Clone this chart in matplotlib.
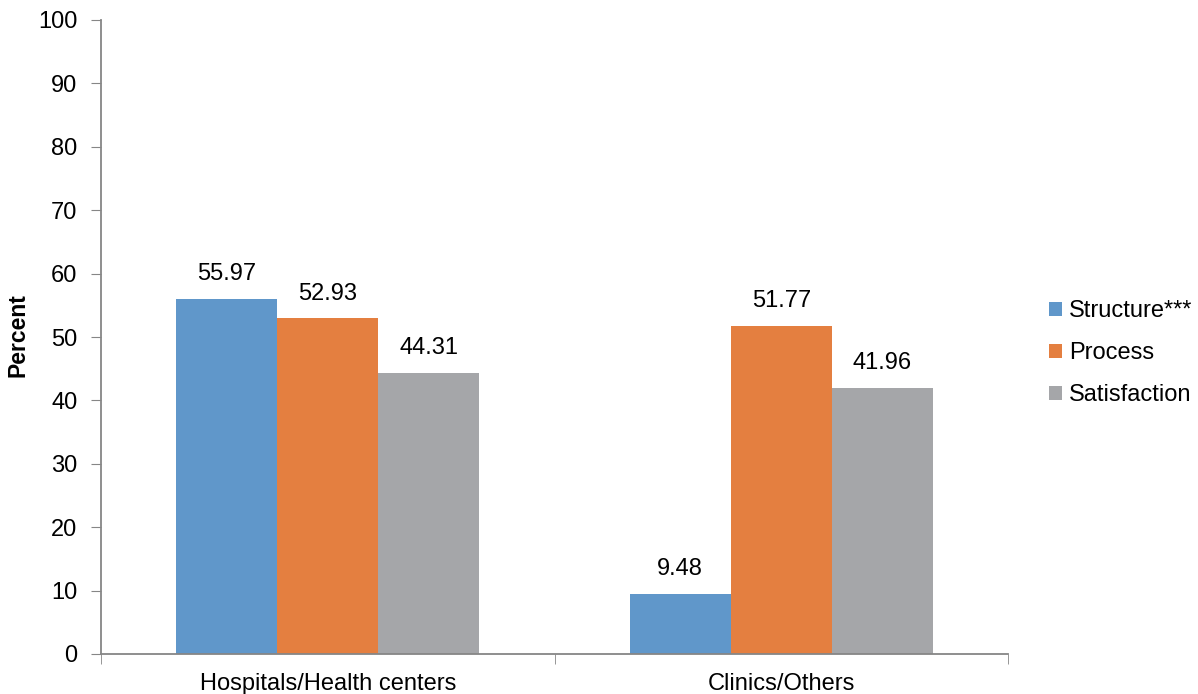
import matplotlib
matplotlib.use("Agg")
import matplotlib.pyplot as plt
import numpy as np

plt.rcParams['font.family'] = ['Liberation Sans', 'DejaVu Sans']

categories = ["Hospitals/Health centers", "Clinics/Others"]
series_names = ["Structure***", "Process", "Satisfaction"]
structure = [55.97, 9.48]
process = [52.93, 51.77]
satisfaction = [44.31, 41.96]
colors = ["#6097CA", "#E47F40", "#A5A6A9"]

fig = plt.figure(figsize=(11.98, 6.94), dpi=100)
ax = fig.add_axes([101/1198, 40/694, 907/1198, 634/694])

x = np.arange(len(categories))
width = 0.2227
axis_color = "#868686"
fs = 17

for i, (vals, name, col) in enumerate(zip([structure, process, satisfaction], series_names, colors)):
    pos = x + (i - 1) * width
    bars = ax.bar(pos, vals, width=width, color=col, label=name, zorder=2)
    for b, v in zip(bars, vals):
        ax.annotate(f"{v:.2f}", (b.get_x() + b.get_width() / 2, v),
                    xytext=(0, 10), textcoords="offset points",
                    ha="center", va="bottom", fontsize=fs, color="black")

ax.set_xlim(-0.5, len(categories) - 0.5)
ax.set_ylim(0, 100)
ax.set_yticks(np.arange(0, 101, 10))
ax.set_xticks(x)
ax.set_xticklabels(categories)
ax.set_xticks(np.arange(-0.5, len(categories), 1.0), minor=True)
ax.tick_params(axis="x", which="major", length=0, labelsize=fs, pad=14)
ax.tick_params(axis="x", which="minor", length=7, color=axis_color, direction="out")
ax.tick_params(axis="y", length=7, color=axis_color, labelsize=fs, pad=10)

for side in ["top", "right"]:
    ax.spines[side].set_visible(False)
for side in ["left", "bottom"]:
    ax.spines[side].set_color(axis_color)
    ax.spines[side].set_linewidth(1.3)

fig.text(18/1198, 0.517, "Percent", rotation=90, ha="center", va="center",
         fontsize=16.5, fontweight="bold")

fig.legend(loc="center left", bbox_to_anchor=(1049/1198, 0.491), frameon=False,
           fontsize=fs, handlelength=0.55, handleheight=0.55, handletextpad=0.3,
           labelspacing=0.85, borderaxespad=0, borderpad=0)

fig.savefig("out.png", dpi=100)
